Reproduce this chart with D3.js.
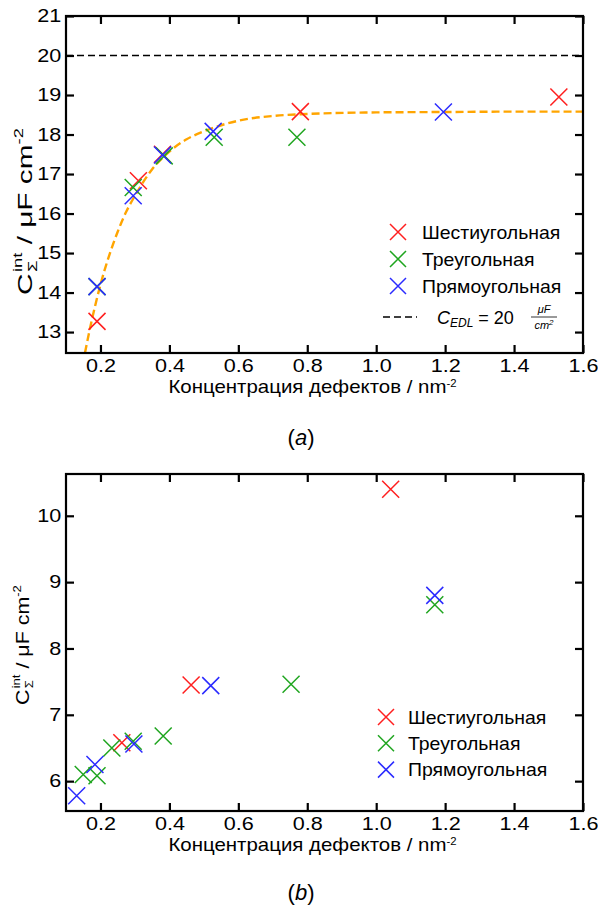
<!DOCTYPE html>
<html>
<head>
<meta charset="utf-8">
<script src="https://cdn.jsdelivr.net/npm/d3@7"></script>
<style>
  body { margin: 0; background: #fff; }
  text { font-family: "Liberation Sans", Arial, sans-serif; fill: #000; }
</style>
</head>
<body>
<svg id="fig" width="598" height="908"></svg>
<script>
// tick values
const xTicks = [0.2, 0.4, 0.6, 0.8, 1.0, 1.2, 1.4, 1.6];
const topYTicks = [13, 14, 15, 16, 17, 18, 19, 20, 21];
const bottomYTicks = [6, 7, 8, 9, 10];

// series
const seriesNames = ["Шестиугольная", "Треугольная", "Прямоугольная"];
const seriesColors = ["#ff1f1f", "#1fa51f", "#2b2bff"];

// panel (a): [concentration, capacitance]
const hexA = [[0.19, 13.27], [0.31, 16.83], [0.38, 17.5], [0.78, 18.58], [1.53, 18.95]];
const triA = [[0.19, 14.15], [0.295, 16.66], [0.385, 17.46], [0.53, 17.93], [0.77, 17.93]];
const rectA = [[0.19, 14.15], [0.295, 16.45], [0.38, 17.48], [0.527, 18.08], [1.195, 18.57]];

// fitted curve
const fitX = [0.155, 0.17, 0.185, 0.2, 0.225, 0.25, 0.275, 0.3, 0.35, 0.4, 0.45, 0.5, 0.6, 0.7, 0.8, 1.0, 1.2, 1.4, 1.6];
const fitY = [12.47, 13.11, 13.68, 14.2, 14.93, 15.54, 16.05, 16.45, 17.12, 17.57, 17.88, 18.08, 18.35, 18.47, 18.52, 18.56, 18.57, 18.58, 18.58];

const edlValue = 20;

// panel (b)
const hexB = [[0.262, 6.58], [0.463, 7.45], [1.042, 10.4]];
const triB = [[0.15, 6.1], [0.19, 6.08], [0.233, 6.5], [0.295, 6.6], [0.382, 6.68], [0.753, 7.46], [1.17, 8.66]];
const rectB = [[0.131, 5.78], [0.184, 6.25], [0.297, 6.56], [0.52, 7.44], [1.17, 8.8]];

const svg = d3.select("#fig");
const TICK_K = 1.2;   // the original lettering is a bit wider than Arial

function crossPath(s) {
  return "M" + (-s) + "," + (-s) + "L" + s + "," + s + "M" + (-s) + "," + s + "L" + s + "," + (-s);
}

// squeeze/stretch a text (drawn at its own origin) so it spans a given width
function fitWidth(t, pre, target) {
  const w = t.node().getBBox().width;
  t.attr("transform", pre + " scale(" + (target / w) + ",1)");
}

//draws one panel with frame, inward ticks, labels, markers and legend
function drawPanel(cfg) {
  const g = svg.append("g");
  const x = d3.scaleLinear().domain([0.1, 1.6]).range([66, 583]);
  const y = d3.scaleLinear().domain(cfg.yDomain).range([cfg.bottom, cfg.top]);

  // dashed reference line and fitted curve go under the markers
  if (cfg.edl) {
    g.append("line")
      .attr("x1", x(0.1)).attr("x2", x(1.6))
      .attr("y1", y(cfg.edl)).attr("y2", y(cfg.edl))
      .attr("stroke", "#000").attr("stroke-width", 1.3)
      .attr("stroke-dasharray", "7,4");
  }
  if (cfg.fitX) {
    const line = d3.line()
      .x(d => x(d[0])).y(d => y(d[1]))
      .curve(d3.curveMonotoneX);
    g.append("path")
      .datum(cfg.fitX.map((v, i) => [v, cfg.fitY[i]]))
      .attr("d", line)
      .attr("fill", "none")
      .attr("stroke", "#ffa500")
      .attr("stroke-width", 2.4)
      .attr("stroke-dasharray", "8,4");
  }

  // markers
  cfg.series.forEach(function(s, i) {
    g.append("g").selectAll("path").data(s).join("path")
      .attr("transform", d => "translate(" + x(d[0]) + "," + y(d[1]) + ")")
      .attr("d", crossPath(8.5))
      .attr("stroke", seriesColors[i])
      .attr("stroke-width", 1.5)
      .attr("fill", "none");
  });

  // axes
  g.append("g").attr("transform", "translate(0," + cfg.bottom + ")")
    .call(d3.axisBottom(x).tickValues(xTicks).tickFormat(d3.format(".1f")).tickSize(-8).tickPadding(6));
  g.append("g").attr("transform", "translate(66,0)")
    .call(d3.axisLeft(y).tickValues(cfg.yTicks).tickFormat(d3.format("d")).tickSize(-8).tickPadding(4));
  g.append("g").attr("transform", "translate(0," + cfg.top + ")")
    .call(d3.axisTop(x).tickValues(xTicks).tickFormat("").tickSize(-8));
  g.append("g").attr("transform", "translate(583,0)")
    .call(d3.axisRight(y).tickValues(cfg.yTicks).tickFormat("").tickSize(-8));
  g.selectAll(".domain").remove();
  g.selectAll(".tick line").attr("stroke", "#000").attr("stroke-width", 2.2);
  g.selectAll(".tick text")
    .attr("font-size", 18)
    .attr("font-family", "Liberation Sans, Arial, sans-serif")
    .attr("fill", "#000")
    .attr("transform", "scale(" + TICK_K + ",1)");

  g.append("rect")
    .attr("x", 66).attr("y", cfg.top)
    .attr("width", 583 - 66).attr("height", cfg.bottom - cfg.top)
    .attr("fill", "none").attr("stroke", "#000").attr("stroke-width", 2.2);

  // x title
  const xt = g.append("text")
    .attr("text-anchor", "middle")
    .attr("font-size", 18);
  xt.append("tspan").text("Концентрация дефектов / nm");
  xt.append("tspan").attr("font-size", 10).attr("dy", -6).text("-2");
  fitWidth(xt, "translate(312.5," + (cfg.bottom + 40) + ")", 289);

  // y title
  const fs = cfg.yTitleSize, sub = Math.round(fs * 0.6);
  const yt = g.append("text")
    .attr("font-size", fs);
  yt.append("tspan").text("C");
  yt.append("tspan").attr("font-size", sub).attr("dy", fs * 0.22).attr("dx", 1).text("Σ");
  yt.append("tspan").attr("font-size", sub).attr("dy", -fs * 0.72).attr("dx", -sub * 0.62).text("int");
  yt.append("tspan").attr("dy", fs * 0.5).text(" / μF cm");
  yt.append("tspan").attr("font-size", sub).attr("dy", -fs * 0.42).text("-2");
  fitWidth(yt, "translate(" + cfg.yTitleX + "," + cfg.yTitleStart + ") rotate(-90)", cfg.yTitleLen);

  // legend
  seriesNames.forEach(function(name, i) {
    const ly = cfg.legendY + i * cfg.legendStep;
    g.append("path")
      .attr("transform", "translate(" + cfg.legendX + "," + ly + ")")
      .attr("d", crossPath(8))
      .attr("stroke", seriesColors[i]).attr("stroke-width", 1.5).attr("fill", "none");
    const lt = g.append("text")
      .attr("font-size", 18)
      .text(name);
    lt.attr("transform", "translate(" + (cfg.legendX + cfg.legendGap) + "," + (ly + 6.5) + ") scale(1.08,1)");
  });

  if (cfg.edl) {
    const ly = 317;
    g.append("line")
      .attr("x1", 383).attr("x2", 417).attr("y1", ly).attr("y2", ly)
      .attr("stroke", "#000").attr("stroke-width", 1.3).attr("stroke-dasharray", "7,4");
    const et = g.append("text").attr("x", 437).attr("y", ly + 7)
      .attr("font-size", 18).attr("font-family", "DejaVu Sans, sans-serif");
    et.append("tspan").attr("font-style", "italic").text("C");
    et.append("tspan").attr("font-style", "italic").attr("font-size", 12).attr("dy", 3).text("EDL");
    et.append("tspan").attr("dy", -3).text(" = " + cfg.edl + " ");
    g.append("text").attr("x", 544).attr("y", ly - 4).attr("text-anchor", "middle")
      .attr("font-size", 11).attr("font-style", "italic").attr("font-family", "DejaVu Sans, sans-serif")
      .text("μF");
    g.append("line").attr("x1", 531).attr("x2", 557).attr("y1", ly).attr("y2", ly)
      .attr("stroke", "#000").attr("stroke-width", 0.8);
    const den = g.append("text").attr("x", 544).attr("y", ly + 12).attr("text-anchor", "middle")
      .attr("font-size", 11).attr("font-style", "italic").attr("font-family", "DejaVu Sans, sans-serif");
    den.append("tspan").text("cm");
    den.append("tspan").attr("font-size", 8).attr("dy", -4).text("2");
  }

  // panel label
  const pl = g.append("text")
    .attr("x", 301).attr("y", cfg.labelY)
    .attr("text-anchor", "middle")
    .attr("font-size", 22)
    .attr("font-family", "Liberation Serif, DejaVu Serif, serif");
  pl.append("tspan").text("(");
  pl.append("tspan").attr("font-style", "italic").text(cfg.label);
  pl.append("tspan").text(")");
}

drawPanel({
  top: 16, bottom: 353, yDomain: [12.47, 21], yTicks: topYTicks,
  series: [hexA, triA, rectA],
  fitX: fitX, fitY: fitY, edl: edlValue,
  legendX: 398, legendY: 232, legendStep: 27, legendGap: 24,
  yTitleX: 32, yTitleStart: 295, yTitleLen: 167, yTitleSize: 21,
  label: "a", labelY: 445
});

drawPanel({
  top: 474, bottom: 811, yDomain: [5.55, 10.63], yTicks: bottomYTicks,
  series: [hexB, triB, rectB],
  legendX: 386, legendY: 717, legendStep: 26.3, legendGap: 22,
  yTitleX: 29, yTitleStart: 705, yTitleLen: 120, yTitleSize: 18,
  label: "b", labelY: 900
});
</script>
</body>
</html>
